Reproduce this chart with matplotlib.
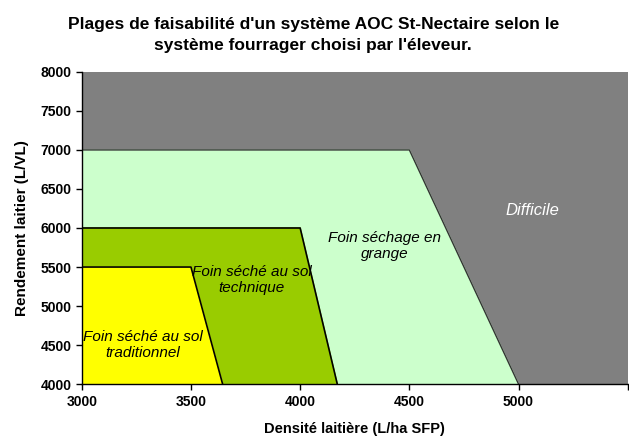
import matplotlib
matplotlib.use("Agg")
import matplotlib.pyplot as plt

plt.rcParams['font.family'] = ['Liberation Sans', 'DejaVu Sans']

# Data: region boundaries (density L/ha SFP, yield L/VL)
grange_x = [3000, 3000, 4500, 5000]
grange_y = [4000, 7000, 7000, 4000]
tech_x = [3000, 3000, 4000, 4170]
tech_y = [4000, 6000, 6000, 4000]
trad_x = [3000, 3000, 3500, 3645]
trad_y = [4000, 5500, 5500, 4000]

xticks = [3000, 3500, 4000, 4500, 5000]
yticks = [4000, 4500, 5000, 5500, 6000, 6500, 7000, 7500, 8000]

fig = plt.figure(figsize=(6.29, 4.41), dpi=100)
ax = fig.add_axes([0.130, 0.129, 0.868, 0.708])
ax.set_facecolor('#808080')

ax.fill(grange_x, grange_y, color='#ccffcc', zorder=1)
ax.plot(grange_x[1:], grange_y[1:], color='#333333', lw=1.0, zorder=2)
ax.fill(tech_x, tech_y, color='#99cc00', zorder=3)
ax.plot(tech_x[1:], tech_y[1:], color='black', lw=1.2, zorder=4)
ax.fill(trad_x, trad_y, color='#ffff00', zorder=5)
ax.plot(trad_x[1:], trad_y[1:], color='black', lw=1.2, zorder=6)

ax.set_xlim(3000, 5500)
ax.set_ylim(4000, 8000)
ax.set_xticks(xticks + [5500])
ax.set_xticklabels([str(v) for v in xticks] + [''])
ax.set_yticks(yticks)
ax.set_yticklabels([str(v) for v in yticks])
for lab in ax.get_xticklabels() + ax.get_yticklabels():
    lab.set_fontweight('bold')
    lab.set_fontsize(10)
ax.tick_params(direction='out', length=4, width=1, color='black')

for s in ['top', 'right']:
    ax.spines[s].set_visible(False)
for s in ['left', 'bottom']:
    ax.spines[s].set_linewidth(1.0)
    ax.spines[s].set_zorder(10)

ax.set_xlabel('Densité laitière (L/ha SFP)', fontsize=10.5, fontweight='bold', labelpad=10)
ax.set_ylabel('Rendement laitier (L/VL)', fontsize=11, fontweight='bold', labelpad=8)

fig.suptitle("Plages de faisabilité d'un système AOC St-Nectaire selon le\nsystème fourrager choisi par l'éleveur.",
             x=0.498, y=0.962, fontsize=12.5, fontweight='bold', linespacing=1.55)

kw = dict(fontsize=11, style='italic', ha='center', va='center', zorder=20, linespacing=1.25)
ax.text(5065, 6220, 'Difficile', color='white', fontsize=12, style='italic',
        ha='center', va='center', zorder=20)
ax.text(4387, 5770, 'Foin séchage en\ngrange', color='black', **kw)
ax.text(3778, 5333, 'Foin séché au sol\ntechnique', color='black', **kw)
ax.text(3279, 4500, 'Foin séché au sol\ntraditionnel', color='black', **kw)

fig.savefig('out.png', dpi=100)
